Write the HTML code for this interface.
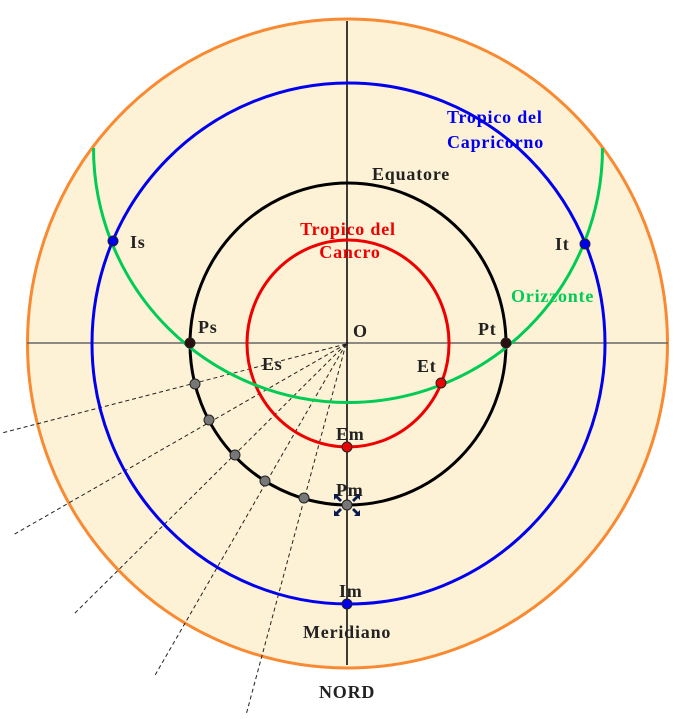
<!DOCTYPE html>
<html><head><meta charset="utf-8"><style>
html,body{margin:0;padding:0;background:#fff;width:695px;height:719px;overflow:hidden}
svg{display:block}
text{font-family:"Liberation Serif",serif;font-weight:bold;font-size:18px;letter-spacing:0.8px}
</style></head><body>
<svg width="695" height="719" viewBox="0 0 695 719" xmlns="http://www.w3.org/2000/svg">
<ellipse cx="347.5" cy="343.5" rx="320" ry="324.5" fill="#fdf2d6" stroke="#f98a32" stroke-width="3"/>
<g stroke="#222" stroke-width="1" stroke-dasharray="4,3" fill="none">
<line x1="346" y1="344" x2="2" y2="433"/>
<line x1="346" y1="344" x2="13" y2="535"/>
<line x1="346" y1="344" x2="73" y2="615"/>
<line x1="346" y1="344" x2="154" y2="677"/>
<line x1="346" y1="344" x2="246" y2="715"/>
</g>
<line x1="27" y1="343" x2="668" y2="343" stroke="#666" stroke-width="1.5"/>
<line x1="347" y1="21" x2="347" y2="665" stroke="#000" stroke-width="1.5"/>
<ellipse cx="348.5" cy="343.5" rx="256.5" ry="260.5" fill="none" stroke="#0000ee" stroke-width="3"/>
<ellipse cx="348" cy="344" rx="158" ry="161" fill="none" stroke="#000" stroke-width="3"/>
<ellipse cx="348" cy="343.5" rx="101" ry="103.5" fill="none" stroke="#ee0000" stroke-width="3"/>
<path d="M93.5,148 A254.5,254.5 0 0 0 602.5,148" fill="none" stroke="#00cc55" stroke-width="3"/>
<g stroke="#222" stroke-width="1" fill="#777">
<circle cx="195" cy="384" r="5"/><circle cx="209" cy="420" r="5"/><circle cx="235" cy="455" r="5"/>
<circle cx="265" cy="481" r="5"/><circle cx="304" cy="498" r="5"/><circle cx="347" cy="505" r="5"/>
</g>
<g stroke="#222" stroke-width="1">
<circle cx="190" cy="343" r="5" fill="#2a1010"/><circle cx="506" cy="343" r="5" fill="#2a1010"/>
<circle cx="441" cy="383" r="5" fill="#ee0000"/><circle cx="347" cy="447" r="5" fill="#ee0000"/>
<circle cx="113" cy="241" r="5" fill="#0000ee"/><circle cx="585" cy="244" r="5" fill="#0000ee"/>
<circle cx="347" cy="604" r="5" fill="#0000ee"/>
</g>
<g fill="#0a1a50">
<path d="M334,494 l6,0 l-2,2 l4,4 l-2,2 l-4,-4 l-2,2z"/>
<path d="M360,494 l-6,0 l2,2 l-4,4 l2,2 l4,-4 l2,2z"/>
<path d="M334,516 l6,0 l-2,-2 l4,-4 l-2,-2 l-4,4 l-2,-2z"/>
<path d="M360,516 l-6,0 l2,-2 l-4,-4 l2,-2 l4,4 l2,-2z"/>
</g>
<g fill="#222">
<text x="353" y="337">O</text>
<text x="198" y="333">Ps</text>
<text x="478" y="335">Pt</text>
<text x="130" y="248">Is</text>
<text x="555" y="250">It</text>
<text x="262" y="370">Es</text>
<text x="417" y="372">Et</text>
<text x="336" y="440">Em</text>
<text x="336" y="496">Pm</text>
<text x="339" y="597">Im</text>
<text x="303" y="638">Meridiano</text>
<text x="319" y="698">NORD</text>
<text x="372" y="180">Equatore</text>
</g>
<g fill="#0000ee"><text x="447" y="123">Tropico del</text><text x="447" y="148">Capricorno</text></g>
<g fill="#ee0000" text-anchor="middle"><text x="348" y="235">Tropico del</text><text x="350" y="258">Cancro</text></g>
<text x="511" y="302" fill="#00cc55">Orizzonte</text>
</svg>
</body></html>
